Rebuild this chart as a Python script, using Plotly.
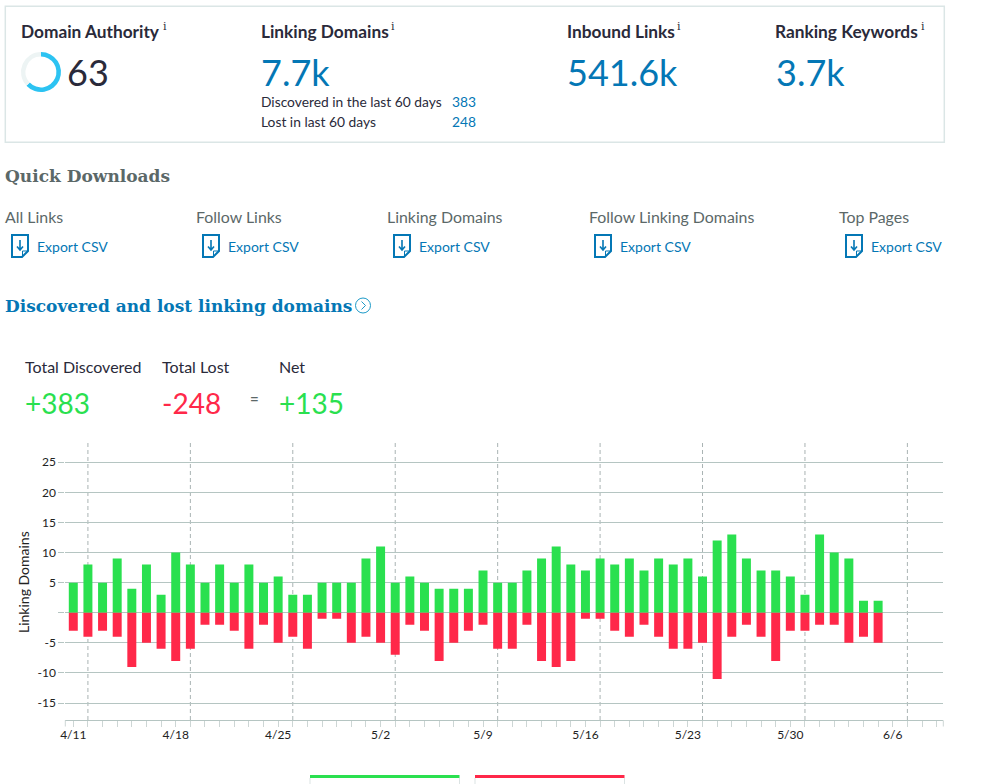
import pandas as pd
import plotly.graph_objects as go

W, H = 1000, 784

# daily counts, starting 4/11
discovered = [5, 8, 5, 9, 4, 8, 3, 10, 8, 5, 8, 5, 8, 5, 6, 3, 3, 5, 5, 5,
              9, 11, 5, 6, 5, 4, 4, 4, 7, 5, 5, 7, 9, 11, 8, 7, 9, 8, 9, 7,
              9, 8, 9, 6, 12, 13, 9, 7, 7, 6, 3, 13, 10, 9, 2, 2]
lost = [3, 4, 3, 4, 9, 5, 6, 8, 6, 2, 2, 3, 6, 2, 5, 4, 6, 1, 1, 5,
        4, 5, 7, 2, 3, 8, 5, 3, 2, 6, 6, 2, 8, 9, 8, 1, 1, 3, 4, 2,
        4, 6, 6, 5, 11, 4, 2, 4, 8, 3, 3, 2, 2, 5, 4, 5]
days = pd.date_range("2021-04-11", periods=len(discovered))

y_ticks = [25, 20, 15, 10, 5, 0, -5, -10, -15]
y_labels = ["25", "20", "15", "10", "5", "", "-5", "-10", "-15"]
dashed_days = pd.date_range("2021-04-12", periods=9, freq="7D")

domain_authority = [63, 37]
download_names = ["All Links", "Follow Links", "Linking Domains", "Follow Linking Domains", "Top Pages"]
download_x = [5, 196, 387, 589, 839]
export_x = [37, 228, 419, 620, 871]
icon_x = [11, 202, 393, 594, 845]

BLUE = "#0477b5"
DARK = "#2a2a3a"
GREY = "#5b6868"
GREEN = "#2ae04f"
RED = "#ff2849"
GRID = "#b5c5c2"
SANS = "Lato"
SLAB = "DejaVu Serif"


def px(x):
    return x / W


def py(y):
    return 1 - y / H


def path(cmds):
    # cmds are (letter, x, y) in page pixels
    return " ".join(f"{c} {px(x):.5f} {py(y):.5f}" for c, x, y in cmds)


annotations = []
shapes = []


def txt(x, y, text, size, color, family=SANS, weight=None):
    annotations.append(dict(
        x=px(x), y=py(y), xref="paper", yref="paper", text=text, showarrow=False,
        xanchor="left", yanchor="middle", borderpad=0, borderwidth=0,
        font=dict(size=size, color=color, family=family, weight=weight),
    ))


def line(x0, y0, x1, y1, color, width=1, dash=None):
    shapes.append(dict(type="line", xref="paper", yref="paper", x0=px(x0), x1=px(x1),
                       y0=py(y0), y1=py(y1), line=dict(color=color, width=width, dash=dash)))


def rect(x0, y0, x1, y1, fill="rgba(0,0,0,0)", border=None, width=0):
    shapes.append(dict(type="rect", xref="paper", yref="paper", x0=px(x0), x1=px(x1),
                       y0=py(y0), y1=py(y1), fillcolor=fill, line=dict(color=border, width=width)))


fig = go.Figure()

fig.add_bar(x=days, y=discovered, marker=dict(color=GREEN, line_width=0), width=53000000,
            name="Discovered")
fig.add_bar(x=days, y=[-v for v in lost], marker=dict(color=RED, line_width=0), width=53000000,
            name="Lost")

# Domain Authority ring
fig.add_pie(values=domain_authority, hole=0.77, sort=False, direction="clockwise", rotation=0,
            domain=dict(x=[px(21), px(61)], y=[py(92), py(52)]), textinfo="none",
            marker=dict(colors=["#2cc3f2", "#edf4f4"], line_width=0), showlegend=False,
            hoverinfo="skip")

# top box
rect(5.3, 6.3, 944.3, 142.3, border="#dbe6e6", width=1.5)

txt(21, 31.5, "Domain Authority", 17.3, DARK, weight=700)
txt(67, 72, "63", 36, DARK)
txt(261, 31.5, "Linking Domains", 17.3, DARK, weight=700)
txt(261, 72, "7.7k", 36, BLUE)
txt(261, 102, "Discovered in the last 60 days", 13.8, DARK)
txt(452, 102, "383", 13.8, BLUE)
txt(261, 121.5, "Lost in last 60 days", 13.8, DARK)
txt(452, 121.5, "248", 13.8, BLUE)
txt(567, 31.5, "Inbound Links", 17.3, DARK, weight=700)
txt(567, 72, "541.6k", 36, BLUE)
txt(775, 31.5, "Ranking Keywords", 17.3, DARK, weight=700)
txt(776, 72, "3.7k", 36, BLUE)
for x in [163, 391, 677, 921]:
    txt(x, 26.5, "i", 11, DARK, family=SLAB)

# quick downloads
txt(5, 176, "Quick Downloads", 17, GREY, family=SLAB, weight=700)
for name, x in zip(download_names, download_x):
    txt(x, 216.5, name, 15.9, GREY)
for x in export_x:
    txt(x, 247, "Export CSV", 14, BLUE)
for x in icon_x:
    shapes.append(dict(type="path", xref="paper", yref="paper", line=dict(color=BLUE, width=2),
                       path=path([("M", x + 1, 235), ("L", x + 17, 235), ("L", x + 17, 251),
                                  ("L", x + 11, 257), ("L", x + 1, 257)]) + " Z"))
    shapes.append(dict(type="path", xref="paper", yref="paper", line=dict(color=BLUE, width=1),
                       path=path([("M", x + 17, 251), ("L", x + 11.5, 251), ("L", x + 11.5, 257)])))
    shapes.append(dict(type="path", xref="paper", yref="paper", line=dict(color=BLUE, width=1.6),
                       path=path([("M", x + 9, 240), ("L", x + 9, 250), ("M", x + 6, 246.5),
                                  ("L", x + 9, 250), ("L", x + 12, 246.5)])))

txt(5, 306, "Discovered and lost linking domains", 17, BLUE, family=SLAB, weight=700)
shapes.append(dict(type="circle", xref="paper", yref="paper", x0=px(355.5), x1=px(370.5),
                   y0=py(313), y1=py(298), line=dict(color="#1c9ac8", width=1)))
shapes.append(dict(type="path", xref="paper", yref="paper", line=dict(color="#1c9ac8", width=1),
                   path=path([("M", 361.5, 301.5), ("L", 365.5, 305.5), ("L", 361.5, 309.5)])))

# totals
txt(25, 367, "Total Discovered", 16, DARK)
txt(162, 367, "Total Lost", 16, DARK)
txt(279, 367, "Net", 16, DARK)
txt(25, 403, "+383", 28, GREEN)
txt(162, 403, "-248", 28, RED)
txt(250, 398, "=", 15, GREY, weight=700)
txt(279, 403, "+135", 28, GREEN)

# dashed weekly lines
for d in dashed_days:
    shapes.append(dict(type="line", xref="x", yref="paper", x0=d, x1=d, y0=py(720), y1=py(443),
                       layer="below", line=dict(color="#a9b3b3", width=1, dash="4px,3px")))

# axis end ticks
line(65.3, 720.3, 65.3, 726.5, "#cdd6d5")
line(943.3, 720.3, 943.3, 726.5, "#cdd6d5")

# legend strips, cut off by the bottom of the page
rect(310, 775, 459.5, 778, fill=GREEN)
rect(475, 775, 624.5, 778, fill=RED)
for x in [310, 459.5, 475, 624.5]:
    line(x, 778, x, 784, "#dbe3e3")

# y axis title
annotations.append(dict(x=px(23), y=py(582), xref="paper", yref="paper", text="Linking Domains",
                        showarrow=False, textangle=-90, borderpad=0, borderwidth=0,
                        xanchor="center", yanchor="middle",
                        font=dict(size=14, color="#222222", family=SANS)))

fig.update_layout(
    width=W,
    height=H,
    margin=dict(l=0, r=0, t=0, b=0, autoexpand=False),
    autosize=False,
    barmode="relative",
    showlegend=False,
    paper_bgcolor="white",
    plot_bgcolor="white",
    annotations=annotations,
    shapes=shapes,
    xaxis=dict(
        domain=[px(65.3), px(943.3)],
        type="date",
        range=[pd.Timestamp("2021-04-11") - pd.Timedelta(days=0.546),
               pd.Timestamp("2021-04-11") + pd.Timedelta(days=59.454)],
        tick0="2021-04-11",
        dtick=7 * 86400000,
        tickformat="%-m/%-d",
        ticks="outside",
        ticklen=6,
        tickcolor="#cdd6d5",
        ticklabelstandoff=-3,
        showline=True,
        linecolor=GRID,
        linewidth=1.3,
        showgrid=False,
        zeroline=False,
        tickfont=dict(size=12, color="#222222", family=SANS),
        minor=dict(ticks="outside", ticklen=6, tickcolor="#cdd6d5", tick0="2021-04-11",
                   dtick=86400000, showgrid=False),
    ),
    yaxis=dict(
        domain=[py(720.3), py(443)],
        range=[-17.87, 28.2],
        tickvals=y_ticks,
        ticktext=y_labels,
        ticks="outside",
        ticklen=6,
        tickcolor=GRID,
        gridcolor=GRID,
        gridwidth=1.3,
        zeroline=False,
        tickfont=dict(size=12, color="#222222", family=SANS),
    ),
)

fig.write_html("out.html", config=dict(displayModeBar=False),
               post_script="document.body.style.margin='0';")
